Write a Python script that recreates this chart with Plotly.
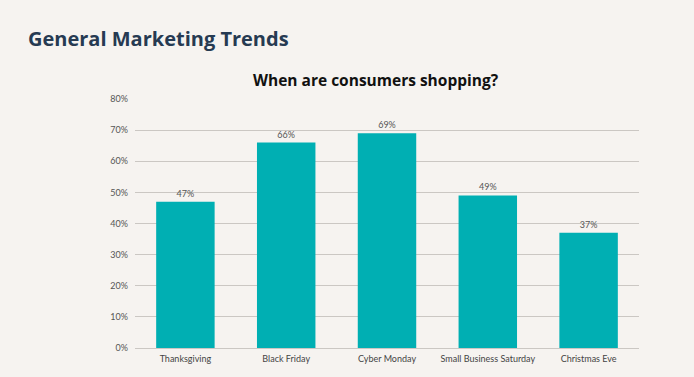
import plotly.graph_objects as go

categories = ["Thanksgiving", "Black Friday", "Cyber Monday", "Small Business Saturday", "Christmas Eve"]
values = [47, 66, 69, 49, 37]
value_labels = ["47%", "66%", "69%", "49%", "37%"]
tick_vals = [0, 10, 20, 30, 40, 50, 60, 70, 80]
tick_text = ["0%", "10%", "20%", "30%", "40%", "50%", "60%", "70%", "80%"]

W, H = 694, 377
L, R, T, B = 135, 55, 99, 29
pw, ph = W - L - R, H - T - B

def px(x):
    return (x - L) / pw

def py(y):
    return (H - B - y) / ph

bg = "#f6f3f0"
fig = go.Figure(go.Bar(
    x=categories, y=values, marker_color="#00afb3", marker_line_width=0,
    text=value_labels, textposition="outside", cliponaxis=False,
    textfont=dict(family="Lato, sans-serif", size=9, color="#555555"),
    hoverinfo="skip"))

fig.update_layout(
    width=W, height=H, margin=dict(l=L, r=R, t=T, b=B),
    paper_bgcolor=bg, plot_bgcolor=bg, bargap=0.42, showlegend=False,
    font=dict(family="Lato, sans-serif", size=9, color="#555555"),
    xaxis=dict(showgrid=False, showline=False, ticks="", tickfont=dict(size=9, color="#444444"),
               ticklabelstandoff=4),
    yaxis=dict(range=[0, 80], tickvals=tick_vals, ticktext=tick_text, showgrid=True,
               gridcolor="#cbc7c3", gridwidth=1, zeroline=True, zerolinecolor="#cbc7c3",
               zerolinewidth=1, showline=False, ticks="", tickfont=dict(size=9, color="#555555"),
               ticklabelstandoff=6),
    annotations=[
        dict(text="<b>General Marketing Trends</b>", xref="paper", yref="paper",
             x=px(26), y=py(39), xanchor="left", yanchor="middle", showarrow=False,
             font=dict(family="Open Sans, sans-serif", size=20, color="#263a52")),
        dict(text="<b>When are consumers shopping?</b>", xref="paper", yref="paper",
             x=px(376), y=py(80), xanchor="center", yanchor="middle", showarrow=False,
             font=dict(family="Open Sans, sans-serif", size=15.5, color="#111111")),
    ],
)
fig.write_html("out.html", config={"displayModeBar": False},
               post_script="document.body.style.margin='0';document.body.style.background='%s';" % bg)
